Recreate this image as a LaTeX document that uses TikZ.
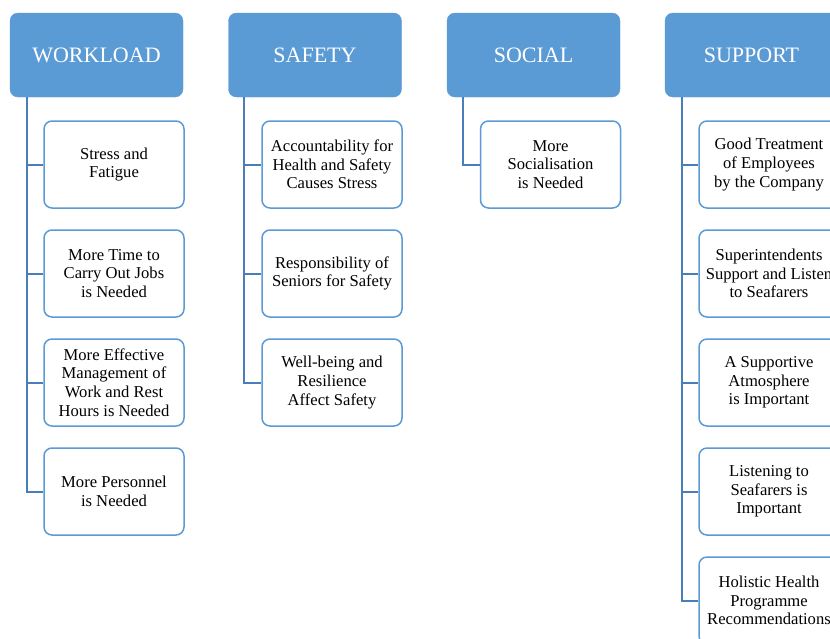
\documentclass[tikz,border=0pt]{standalone}
\usepackage{fontspec}
\setmainfont{Liberation Serif}
\definecolor{hdr}{HTML}{5B9BD5}
\definecolor{cbd}{HTML}{5B9BD5}
\definecolor{lnc}{HTML}{4A7EBB}
\begin{document}
\begin{tikzpicture}[x=1pt,y=-1pt,
  header/.style={rectangle,rounded corners=8pt,fill=hdr,draw=hdr,minimum width=173pt,minimum height=84pt,text=white,font=\fontsize{22}{26}\selectfont,inner sep=0pt},
  child/.style={rectangle,rounded corners=8pt,fill=white,draw=cbd,line width=1.5pt,minimum width=140pt,minimum height=87pt,align=center,font=\fontsize{16.6}{18.6}\selectfont,inner sep=0pt,text=black},
  conn/.style={draw=lnc,line width=2pt}]
\clip (0,0) rectangle (830,638);
\useasboundingbox (0,0) rectangle (830,638);
\fill[white] (0,0) rectangle (830,638);
% headers
\node[header] (wl) at (96.5,55) {WORKLOAD};
\node[header] (sf) at (315,55) {SAFETY};
\node[header] (so) at (533.5,55) {SOCIAL};
\node[header] (su) at (751.5,55) {SUPPORT};
% workload children
\node[child] (w1) at (114,164.5) {Stress and\\Fatigue};
\node[child] (w2) at (114,273.5) {More Time to\\Carry Out Jobs\\is Needed};
\node[child] (w3) at (114,382.5) {More Effective\\Management of\\Work and Rest\\Hours is Needed};
\node[child] (w4) at (114,491.5) {More Personnel\\is Needed};
% safety children
\node[child] (s1) at (332,164.5) {Accountability for\\Health and Safety\\Causes Stress};
\node[child] (s2) at (332,273.5) {Responsibility of\\Seniors for Safety};
\node[child] (s3) at (332,382.5) {Well-being and\\Resilience\\Affect Safety};
% social child
\node[child] (o1) at (550.5,164.5) {More\\Socialisation\\is Needed};
% support children
\node[child] (p1) at (769,164.5) {Good Treatment\\of Employees\\by the Company};
\node[child] (p2) at (769,273.5) {Superintendents\\Support and Listen\\to Seafarers};
\node[child] (p3) at (769,382.5) {A Supportive\\Atmosphere\\is Important};
\node[child] (p4) at (769,491.5) {Listening to\\Seafarers is\\Important};
\node[child] (p5) at (769,600.5) {Holistic Health\\Programme\\Recommendations};
% trunk coordinates
\coordinate (wt) at ([xshift=17pt]wl.south west);
\coordinate (st) at ([xshift=16pt]sf.south west);
\coordinate (ot) at ([xshift=16pt]so.south west);
\coordinate (pt) at ([xshift=17pt]su.south west);
% connectors
\path[conn] (wt) |- (w4.west);
\foreach \c in {w1,w2,w3} \path[conn] (wt |- \c.west) -- (\c.west);
\path[conn] (st) |- (s3.west);
\foreach \c in {s1,s2} \path[conn] (st |- \c.west) -- (\c.west);
\path[conn] (ot) |- (o1.west);
\path[conn] (pt) |- (p5.west);
\foreach \c in {p1,p2,p3,p4} \path[conn] (pt |- \c.west) -- (\c.west);
\end{tikzpicture}
\end{document}
